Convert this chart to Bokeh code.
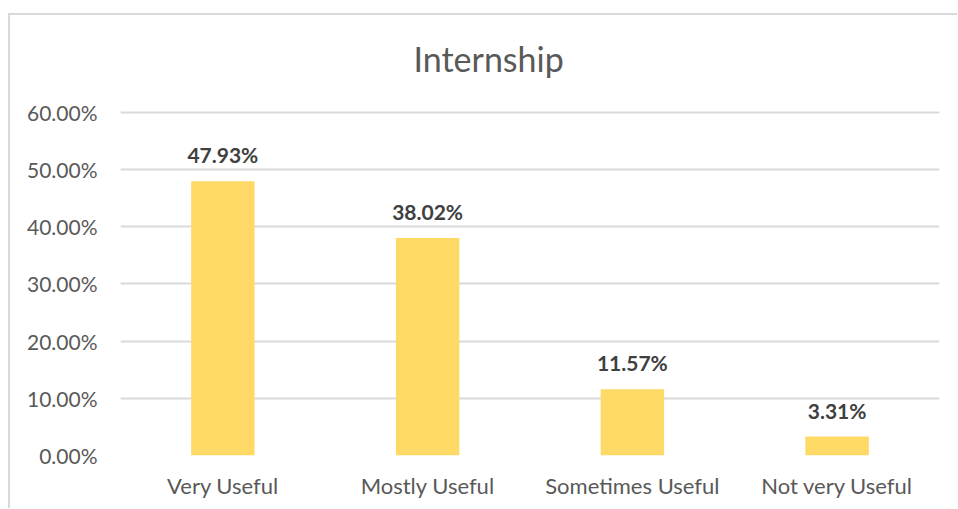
from bokeh.plotting import figure
from bokeh.models import ColumnDataSource, LabelSet, NumeralTickFormatter, FixedTicker, Range1d
from bokeh.core.properties import value
from bokeh.embed import file_html
from bokeh.resources import INLINE

categories = ["Very Useful", "Mostly Useful", "Sometimes Useful", "Not very Useful"]
values = [0.4793, 0.3802, 0.1157, 0.0331]
value_labels = ["47.93%", "38.02%", "11.57%", "3.31%"]
y_ticks = [0.0, 0.1, 0.2, 0.3, 0.4, 0.5, 0.6]
title_text = "Internship"

FONT = "Lato"
TXT = "#595959"

Y_TOP = 0.75          # headroom so the title sits inside the frame
PX_PER_UNIT = 343 / 0.6

src = ColumnDataSource(dict(cat=categories, val=values, lab=value_labels))

p = figure(x_range=categories, y_range=Range1d(0, Y_TOP),
           frame_width=819, frame_height=int(round(Y_TOP * PX_PER_UNIT)),
           output_backend="svg", toolbar_location=None,
           min_border_left=110, min_border_right=18, min_border_top=11, min_border_bottom=53,
           margin=(13, 0, 0, 8))
p.styles = {"border-left": "2px solid #d9d9d9", "border-top": "2px solid #d9d9d9"}
p.outline_line_color = None
p.vbar(x="cat", top="val", width=0.31, source=src, fill_color="#FFD966", line_color=None)

p.yaxis.ticker = FixedTicker(ticks=y_ticks)
p.yaxis.formatter = NumeralTickFormatter(format="0.00%")
for ax in (p.xaxis[0], p.yaxis[0]):
    ax.axis_line_color = None
    ax.major_tick_line_color = None
    ax.minor_tick_line_color = None
    ax.major_label_text_font = FONT
    ax.major_label_text_color = TXT
p.yaxis.major_label_text_font_size = "21px"
p.xaxis.major_label_text_font_size = "22px"
p.yaxis.major_label_standoff = 17
p.xaxis.major_label_standoff = 10
p.xgrid.grid_line_color = None
p.ygrid.grid_line_color = "#D9D9D9"
p.ygrid.grid_line_width = 2

labels = LabelSet(x="cat", y="val", text="lab", source=src, text_align="center",
                  text_baseline="alphabetic", y_offset=18, text_font=value(FONT),
                  text_font_style="bold", text_font_size=value("21px"),
                  text_color="#404040")
p.add_layout(labels)

title_y = y_ticks[-1] + 54 / PX_PER_UNIT
p.text(x=[categories[1]], y=[title_y], text=[title_text], x_offset=61,
       text_align="center", text_baseline="middle", text_font=value(FONT),
       text_font_size="34px", text_color=TXT)

open("out.html", "w").write(file_html(p, INLINE))
